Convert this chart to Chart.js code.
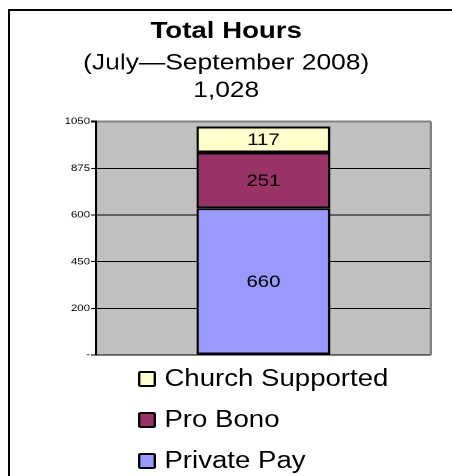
<!DOCTYPE html>
<html lang="en">
  <head>
    <meta charset="UTF-8" />
    <title>Total Hours</title>
    <script src="https://cdn.jsdelivr.net/npm/chart.js"></script>
    <style>
      html, body { margin: 0; padding: 0; background: #fff; overflow: hidden; }
      body { width: 452px; height: 476px; position: relative; font-family: "Liberation Sans", Arial, sans-serif; }
      #frame { position: absolute; left: 8px; top: 9px; width: 500px; height: 500px;
               border-left: 2px solid #000; border-top: 2px solid #000; }
      /* the picture is stretched sideways, so draw narrow and widen */
      #wrap { position: absolute; left: 0; top: 0; width: 377px; height: 476px;
              transform: scaleX(1.2); transform-origin: 0 0; }
      #hoursChart { position: absolute; left: 0; top: 0; width: 377px; height: 476px; }
      #legend { position: absolute; left: 115px; top: 358px; }
      .item { height: 41px; line-height: 41px; font-size: 23px; color: #000; white-space: nowrap; }
      .box { display: inline-block; width: 11px; height: 12px; border: 2px solid #000;
             border-radius: 2px; margin-right: 7px; vertical-align: -1px; }
    </style>
  </head>
  <body>
    <div id="frame"></div>
    <div id="wrap">
      <canvas id="hoursChart" width="377" height="476"></canvas>
      <div id="legend"></div>
    </div>
    <script>
      const categories = [""];
      const seriesNames = ["Private Pay", "Pro Bono", "Church Supported"];
      const seriesColors = ["#9999FF", "#993366", "#FFFFCC"];
      const privatePay = [660];
      const proBono = [251];
      const churchSupported = [117];
      const yTickLabels = ["-", "200", "450", "600", "875", "1050"];

      const FONT = '"Liberation Sans", Arial, sans-serif';

      // gray plot background
      const plotBg = {
        id: "plotBg",
        beforeDraw(chart) {
          const a = chart.chartArea;
          const ctx = chart.ctx;
          ctx.save();
          ctx.fillStyle = "#C0C0C0";
          ctx.fillRect(a.left, a.top, a.right - a.left, a.bottom - a.top);
          ctx.restore();
        },
        afterDatasetsDraw(chart) {
          const a = chart.chartArea;
          const ctx = chart.ctx;
          ctx.save();
          ctx.strokeStyle = "#808080";
          ctx.lineWidth = 2;
          ctx.beginPath();
          ctx.moveTo(a.right, a.top);
          ctx.lineTo(a.right, a.bottom);
          ctx.stroke();
          ctx.restore();
        },
      };

      // value in the middle of each segment
      const segmentLabels = {
        id: "segmentLabels",
        afterDatasetsDraw(chart) {
          const ctx = chart.ctx;
          ctx.save();
          ctx.font = "17px " + FONT;
          ctx.fillStyle = "#000";
          ctx.textAlign = "center";
          ctx.textBaseline = "middle";
          chart.data.datasets.forEach((ds, i) => {
            chart.getDatasetMeta(i).data.forEach((bar, j) => {
              const p = bar.getProps(["x", "y", "base"], true);
              ctx.fillText(ds.data[j], p.x, (p.y + p.base) / 2 + 1);
            });
          });
          ctx.restore();
        },
      };

      const values = [privatePay, proBono, churchSupported];
      const chart = new Chart(document.getElementById("hoursChart"), {
        type: "bar",
        data: {
          labels: categories,
          datasets: seriesNames.map((name, i) => ({
            label: name,
            data: values[i],
            backgroundColor: seriesColors[i],
            borderColor: "#000",
            borderWidth: 2,
            borderSkipped: false,
            barPercentage: 0.4,
            categoryPercentage: 1,
          })),
        },
        options: {
          responsive: false,
          animation: false,
          devicePixelRatio: 2,
          layout: { padding: { left: 18, right: 18, bottom: 121 } },
          scales: {
            x: { stacked: true, display: false },
            y: {
              stacked: true,
              min: 0,
              max: 1050,
              afterFit(scale) { scale.width = 62; },
              border: { color: "#000", width: 2 },
              grid: {
                color: (c) => (c.tick && c.tick.value === 1050 ? "#808080" : "#000"),
                lineWidth: (c) => (c.tick && c.tick.value === 1050 ? 2 : 1),
                tickLength: 4,
                tickColor: "#000",
              },
              ticks: {
                stepSize: 210,
                padding: 1,
                color: "#000",
                font: { family: FONT, size: 9.5 },
                callback: (v, i) => yTickLabels[i],
              },
            },
          },
          plugins: {
            legend: { display: false },
            tooltip: { enabled: false },
            title: {
              display: true,
              text: "Total Hours",
              color: "#000",
              font: { family: FONT, size: 23, weight: "bold" },
              padding: { top: 18, bottom: 0 },
            },
            subtitle: {
              display: true,
              text: ["(July\u2014September 2008)", "1,028"],
              color: "#000",
              font: { family: FONT, size: 22, lineHeight: 1.25 },
              padding: { top: 4, bottom: 17 },
            },
          },
        },
        plugins: [plotBg, segmentLabels],
      });

      // legend, top to bottom the reverse of the stack order
      const legend = document.getElementById("legend");
      chart.data.datasets.slice().reverse().forEach((ds) => {
        const row = document.createElement("div");
        row.className = "item";
        const box = document.createElement("span");
        box.className = "box";
        box.style.background = ds.backgroundColor;
        row.appendChild(box);
        row.appendChild(document.createTextNode(ds.label));
        legend.appendChild(row);
      });
    </script>
  </body>
</html>
